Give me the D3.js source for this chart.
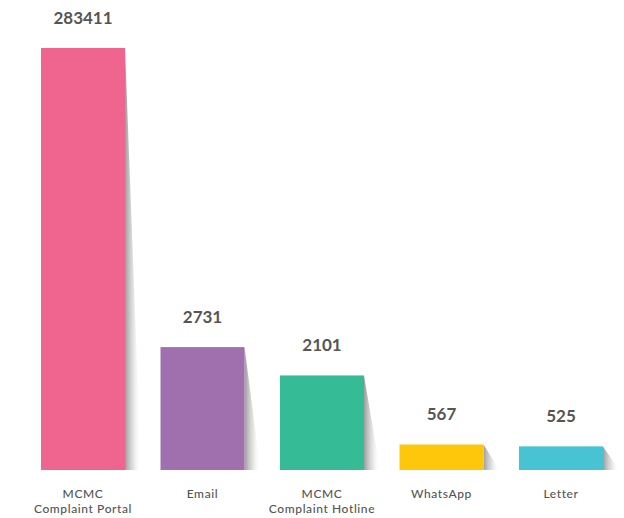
<!DOCTYPE html>
<html><head><meta charset="utf-8">
<script src="https://cdn.jsdelivr.net/npm/d3@7"></script>
<style>body{margin:0;background:#fff}svg{display:block}</style>
</head><body>
<svg id="c" width="624" height="518"></svg>
<script>
const categories = [["MCMC","Complaint Portal"],["Email"],["MCMC","Complaint Hotline"],["WhatsApp"],["Letter"]];
const values = [283411, 2731, 2101, 567, 525];
const colors = ["#F06490","#A070AE","#35BC96","#FEC70B","#48C3D4"];

const svg = d3.select("#c");
const baseline = 470;
const x = d3.scaleBand().domain(d3.range(values.length)).range([41, 603]).paddingInner(0.297).paddingOuter(0);
// broken (piecewise) value scale: small values linear, huge value compressed
const y = d3.scaleLinear().domain([0, 3000, 283411]).range([baseline, baseline - 135, 48]);

const defs = svg.append("defs");
const g = defs.append("linearGradient").attr("id","sh").attr("x1","0").attr("x2","1").attr("y1","0").attr("y2","0");
g.append("stop").attr("offset","0").attr("stop-color","#8a8a8a").attr("stop-opacity",0.85);
g.append("stop").attr("offset","0.5").attr("stop-color","#bbb").attr("stop-opacity",0.45);
g.append("stop").attr("offset","1").attr("stop-color","#fff").attr("stop-opacity",0);

const bw = x.bandwidth();
const items = svg.selectAll("g.bar").data(values).join("g").attr("class","bar");
items.append("path")
  .attr("fill","url(#sh)")
  .attr("d",(d,i)=>{
    const r = x(i)+bw, t = y(d);
    return `M${r},${t}L${r+16},${baseline}L${r},${baseline}Z`;
  });
items.append("rect")
  .attr("x",(d,i)=>x(i)).attr("width",bw)
  .attr("y",d=>y(d)).attr("height",d=>baseline-y(d))
  .attr("fill",(d,i)=>colors[i]);
items.append("text")
  .attr("x",(d,i)=>x(i)+bw/2).attr("y",d=>y(d)-24)
  .attr("text-anchor","middle")
  .style("font-family","Lato, sans-serif").style("font-weight","bold").style("font-size","17px")
  .attr("fill","#555")
  .text(d=>d);

const lab = svg.selectAll("text.cat").data(categories).join("text").attr("class","cat")
  .attr("x",(d,i)=>x(i)+bw/2).attr("y",498)
  .attr("text-anchor","middle")
  .style("font-family","Lato, sans-serif").style("font-size","12px").style("font-weight","500")
  .style("letter-spacing","0.6px")
  .attr("fill","#555");
lab.selectAll("tspan").data(d=>d).join("tspan")
  .attr("x",function(){return this.parentNode.getAttribute("x");})
  .attr("dy",(d,j)=>j===0?0:14.5)
  .text(d=>d);
</script>
</body></html>
